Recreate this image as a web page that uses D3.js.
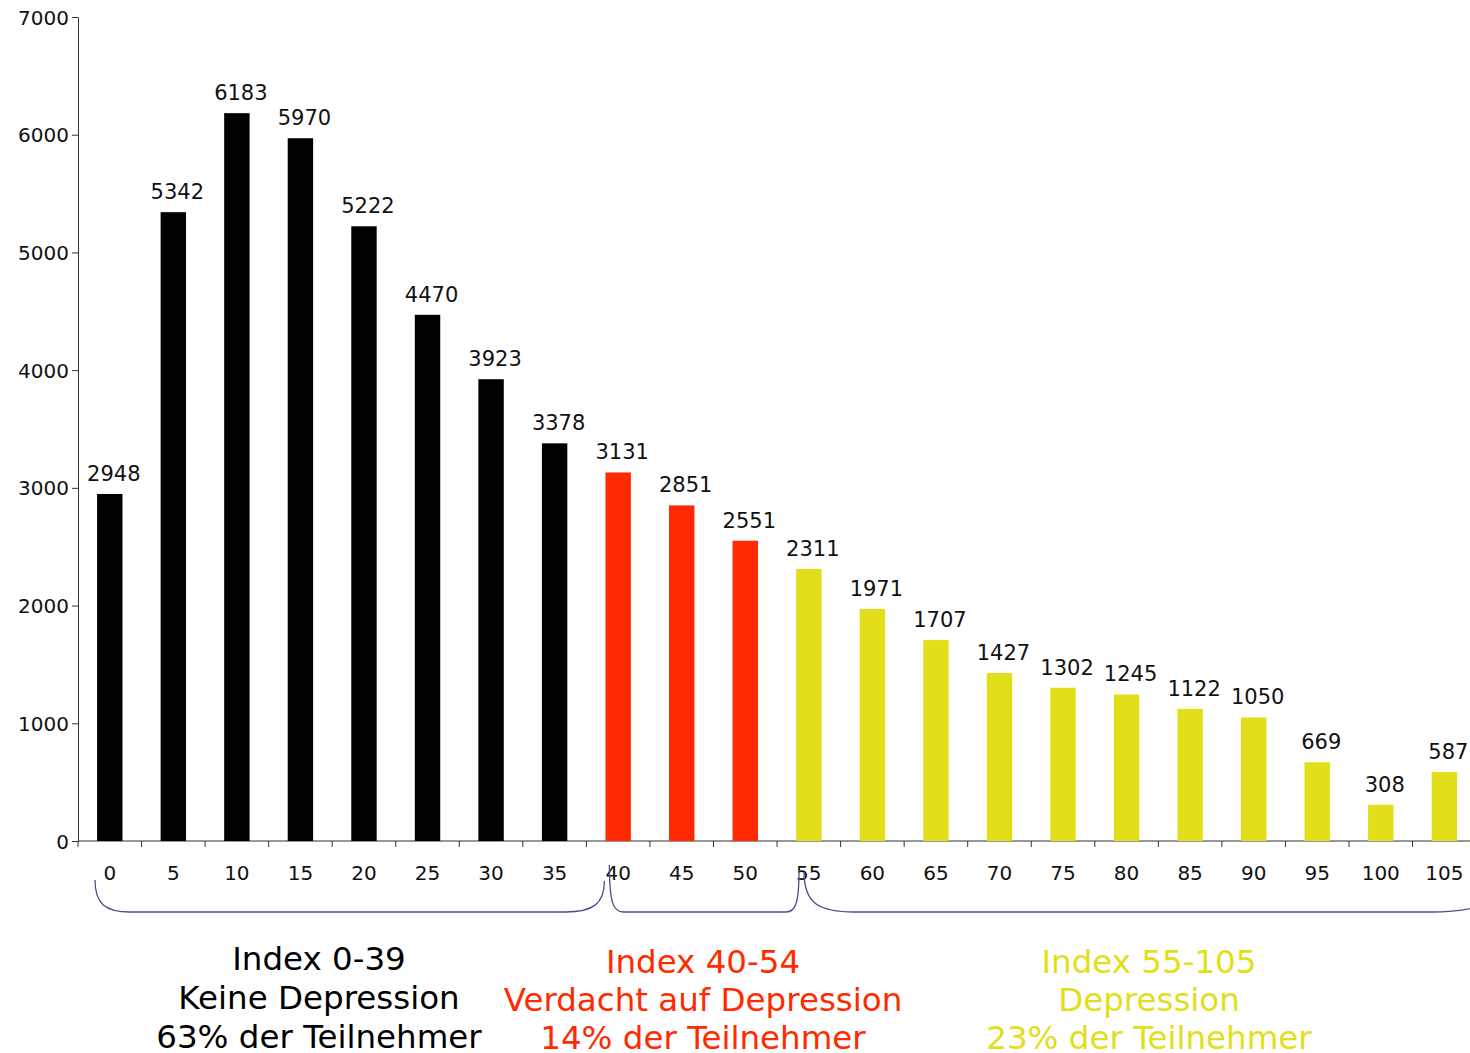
<!DOCTYPE html>
<html>
<head>
<meta charset="utf-8">
<script src="https://cdn.jsdelivr.net/npm/d3@7"></script>
<style>
  body { margin: 0; background: #fff; }
  svg { display: block; font-family: "DejaVu Sans", Verdana, sans-serif; }
</style>
</head>
<body>
<div id="chart"></div>
<script>
// Werte aus dem Diagramm
const indexWerte = [0, 5, 10, 15, 20, 25, 30, 35, 40, 45, 50, 55, 60, 65, 70, 75, 80, 85, 90, 95, 100, 105];
const anzahl = [2948, 5342, 6183, 5970, 5222, 4470, 3923, 3378, 3131, 2851, 2551, 2311, 1971, 1707, 1427, 1302, 1245, 1122, 1050, 669, 308, 587];
const yTicks = [0, 1000, 2000, 3000, 4000, 5000, 6000, 7000];

const gruppenText = [
    ["Index 0-39", "Keine Depression", "63% der Teilnehmer"],
    ["Index 40-54", "Verdacht auf Depression", "14% der Teilnehmer"],
    ["Index 55-105", "Depression", "23% der Teilnehmer"]
];
const gruppenVon = [0, 40, 55];
const gruppenBis = [35, 50, 105];
const gruppenFarbe = ["#000000", "#ff2a00", "#e2df1a"];

const fullWidth = 1470, fullHeight = 1053;
const margin = { top: 17, left: 78, bottom: 212 };
const height = fullHeight - margin.top - margin.bottom;

const svg = d3.select("#chart").append("svg")
    .attr("width", fullWidth)
    .attr("height", fullHeight);

const g = svg.append("g").attr("transform", `translate(${margin.left},${margin.top})`);

const bandW = 63.55;
const x = d3.scaleBand()
    .domain(indexWerte)
    .range([0, bandW * indexWerte.length])
    .padding(0);

const y = d3.scaleLinear().domain([0, 7000]).range([height, 0]);

function gruppe(i) {
    if (i < 40) return 0;
    if (i < 55) return 1;
    return 2;
}

// y-Achse
const yAxis = g.append("g")
    .call(d3.axisLeft(y).tickValues(yTicks).tickFormat(d3.format("d"))
        .tickSize(6).tickPadding(3).tickSizeOuter(0))
    .attr("font-family", null)
    .attr("font-size", null);
yAxis.selectAll("text").style("font-size", "20px").attr("fill", "#111").attr("dy", "0.35em");
yAxis.selectAll("line, path").attr("stroke", "#333");

// x-Achse: Linie + Teilstriche an den Klassengrenzen
g.append("line")
    .attr("x1", 0).attr("x2", fullWidth)
    .attr("y1", height).attr("y2", height)
    .attr("stroke", "#333");

g.selectAll(".xtick")
    .data(indexWerte)
    .enter().append("line")
    .attr("class", "xtick")
    .attr("x1", d => x(d)).attr("x2", d => x(d))
    .attr("y1", height).attr("y2", height + 6)
    .attr("stroke", "#333");

g.selectAll(".xlabel")
    .data(indexWerte)
    .enter().append("text")
    .attr("class", "xlabel")
    .attr("x", d => x(d) + x.bandwidth() / 2)
    .attr("y", height + 39)
    .attr("text-anchor", "middle")
    .style("font-size", "20px")
    .attr("fill", "#111")
    .text(d => d);

// Balken
const barW = x.bandwidth() * 0.4;
g.selectAll(".bar")
    .data(indexWerte)
    .enter().append("rect")
    .attr("class", "bar")
    .attr("x", d => x(d) + (x.bandwidth() - barW) / 2)
    .attr("y", (d, i) => y(anzahl[i]))
    .attr("width", barW)
    .attr("height", (d, i) => height - y(anzahl[i]))
    .attr("fill", d => gruppenFarbe[gruppe(d)]);

g.selectAll(".label")
    .data(indexWerte)
    .enter().append("text")
    .attr("class", "label")
    .attr("x", d => x(d) + x.bandwidth() / 2 + 4)
    .attr("y", (d, i) => y(anzahl[i]) - 13)
    .attr("text-anchor", "middle")
    .style("font-size", "21px")
    .attr("fill", "#111")
    .text((d, i) => anzahl[i]);

// geschweifte Klammern unter der Achse
const braceTop0 = [39, 24, 31];
const braceTop1 = [40, 29, 56];
const braceBottom = height + 71;
const braceStart = [17, 23, 27];
const braceEnd = [18, 22, 14];
const curveL = [35, 14, 51];
const curveR = [39, 13, 60];

gruppenVon.forEach((von, k) => {
    const x0 = x(von) + braceStart[k];
    const x1 = x(gruppenBis[k]) + x.bandwidth() + braceEnd[k];
    const cl = curveL[k], cr = curveR[k];
    const p = d3.path();
    p.moveTo(x0, height + braceTop0[k]);
    p.bezierCurveTo(x0, braceBottom - 8, x0 + cl * 0.3, braceBottom, x0 + cl, braceBottom);
    p.lineTo(x1 - cr, braceBottom);
    p.bezierCurveTo(x1 - cr * 0.3, braceBottom, x1, braceBottom - 8, x1, height + braceTop1[k]);
    g.append("path")
        .attr("d", p.toString())
        .attr("fill", "none")
        .attr("stroke", "#4a4c8c")
        .attr("stroke-width", 1.3);
});

// Beschriftung der Gruppen
const textMitte = [319 - margin.left, 703 - margin.left, 1149 - margin.left];
gruppenText.forEach((zeilen, k) => {
    const t = g.append("text")
        .attr("text-anchor", "middle")
        .style("font-size", "32.5px")
        .attr("fill", gruppenFarbe[k]);
    zeilen.forEach((z, j) => {
        t.append("tspan")
            .attr("x", textMitte[k])
            .attr("y", height + 129 + j * 39 - (k === 0 ? 0 : -3 + j))
            .text(z);
    });
});
</script>
</body>
</html>
